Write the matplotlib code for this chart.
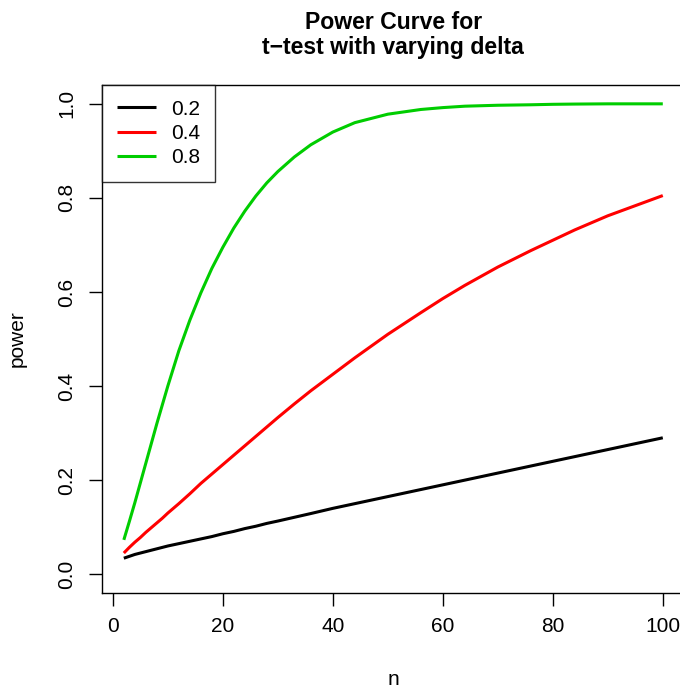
import matplotlib
matplotlib.use("Agg")
import matplotlib.pyplot as plt

plt.rcParams['font.family'] = ['Liberation Sans', 'DejaVu Sans']

# sample sizes
n = [2, 3, 4, 5, 6, 7, 8, 9, 10, 12, 14, 16, 18, 20, 22, 24, 26, 28, 30,
     33, 36, 40, 44, 50, 56, 60, 64, 70, 76, 80, 84, 90, 100]

# power for delta = 0.2
power_02 = [0.034, 0.038, 0.042, 0.045, 0.048, 0.051, 0.054, 0.057, 0.060, 0.065,
            0.070, 0.075, 0.080, 0.086, 0.091, 0.097, 0.102, 0.108, 0.113,
            0.121, 0.129, 0.140, 0.150, 0.165, 0.180, 0.190, 0.200, 0.215,
            0.230, 0.240, 0.250, 0.265, 0.290]

# power for delta = 0.4
power_04 = [0.045, 0.057, 0.068, 0.078, 0.089, 0.099, 0.109, 0.119, 0.130, 0.150,
            0.171, 0.193, 0.213, 0.233, 0.253, 0.273, 0.293, 0.313, 0.333,
            0.362, 0.390, 0.425, 0.460, 0.510, 0.556, 0.586, 0.614, 0.653,
            0.688, 0.710, 0.732, 0.762, 0.805]

# power for delta = 0.8
power_08 = [0.073, 0.112, 0.152, 0.194, 0.236, 0.278, 0.320, 0.360, 0.400, 0.475,
            0.540, 0.598, 0.650, 0.695, 0.736, 0.772, 0.804, 0.832, 0.856,
            0.887, 0.913, 0.940, 0.960, 0.978, 0.988, 0.992, 0.995, 0.997,
            0.998, 0.999, 0.9995, 1.0, 1.0]

deltas = ["0.2", "0.4", "0.8"]
colors = ["black", "#FF0000", "#00CD00"]

fig = plt.figure(figsize=(6.8, 6.89), dpi=100)
ax = fig.add_axes([0.1504, 0.1393, 0.856, 0.7373])

for p, lab, c in zip([power_02, power_04, power_08], deltas, colors):
    ax.plot(n, p, color=c, linewidth=2.2, label=lab, solid_capstyle='butt',
            solid_joinstyle='round')

ax.set_xlim(-1.92, 103.92)
ax.set_ylim(-0.04, 1.04)
ax.set_xticks([0, 20, 40, 60, 80, 100])
ax.set_yticks([0.0, 0.2, 0.4, 0.6, 0.8, 1.0])
ax.set_yticklabels(["0.0", "0.2", "0.4", "0.6", "0.8", "1.0"], rotation=90, va='center')
ax.tick_params(axis='both', labelsize=15, length=9.5, width=1.0, direction='out')
ax.tick_params(axis='x', pad=8)
ax.tick_params(axis='y', pad=9)
for s in ax.spines.values():
    s.set_linewidth(1.0)

ax.set_xlabel("n", fontsize=15, labelpad=24)
ax.set_ylabel("power", fontsize=15, labelpad=22)
ax.set_title("Power Curve for\nt\u2212test with varying delta", fontsize=16.6,
             fontweight='bold', pad=22, linespacing=1.15)

leg = ax.legend(loc='upper left', bbox_to_anchor=(0, 1), borderaxespad=0,
                fontsize=15, frameon=True, fancybox=False, edgecolor='black',
                handlelength=1.9, handletextpad=0.7, borderpad=0.7,
                labelspacing=0.25)
leg.get_frame().set_linewidth(1.0)

fig.savefig("out.png", dpi=100)
